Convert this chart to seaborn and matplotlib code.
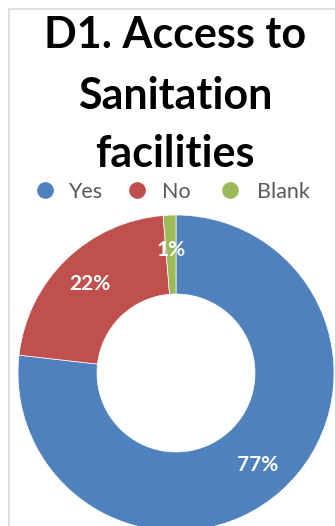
import matplotlib
matplotlib.use("Agg")
import matplotlib.pyplot as plt
from matplotlib.lines import Line2D
from matplotlib.patches import Rectangle
import seaborn as sns

# Survey answers to D1 (share of respondents, %)
categories = ["Yes", "No", "Blank"]
shares = [76.8, 21.9, 1.3]
slice_colors = ["#4F81BD", "#C0504D", "#9BBB59"]
title_lines = ["D1. Access to", "Sanitation", "facilities"]

sns.set_theme(style="white")
plt.rcParams["font.family"] = ["Lato", "DejaVu Sans"]
palette = sns.color_palette(slice_colors)

W, H = 335, 526
fig = plt.figure(figsize=(W / 100, H / 100), dpi=100)
fig.patch.set_facecolor("white")

# chart-area frame (runs off the right and bottom edges)
fig.patches.append(Rectangle((9 / W, -0.1), 1.2, (H - 9) / H + 0.1,
                             transform=fig.transFigure, fill=False,
                             edgecolor="#D9D9D9", linewidth=1.2))

# donut: centre at (176, 373) px from top-left, outer radius 158 px
R = 158
cx, cy = 176, H - 373
ax = fig.add_axes([(cx - R) / W, (cy - R) / H, 2 * R / W, 2 * R / H])
wedges, _, autotexts = ax.pie(
    shares, colors=palette, startangle=90, counterclock=False,
    radius=1.0, autopct="%1.0f%%", pctdistance=0.78,
    wedgeprops=dict(width=0.5, edgecolor="white", linewidth=0.5),
    textprops=dict(color="white", fontsize=15, fontweight="bold"),
)
ax.set_xlim(-1, 1)
ax.set_ylim(-1, 1)
ax.set_axis_off()

# three-line bold title, one baseline per line
for line, base in zip(title_lines, [48, 109, 167]):
    fig.text(175 / W, 1 - base / H, line, ha="center", va="baseline",
             fontsize=31, fontweight="bold", color="black")

# legend row: round markers followed by grey labels
legend_y = 1 - 190 / H
for name, col, mx, tx in zip(categories, palette, [45, 137, 230], [68, 162, 257]):
    fig.add_artist(Line2D([mx / W], [legend_y], marker="o", markersize=11,
                          markerfacecolor=col, markeredgecolor=col,
                          linestyle="none", transform=fig.transFigure))
    fig.text(tx / W, legend_y, name, ha="left", va="center_baseline",
             fontsize=15.5, color="#595959")

fig.savefig("out.png", dpi=100)
